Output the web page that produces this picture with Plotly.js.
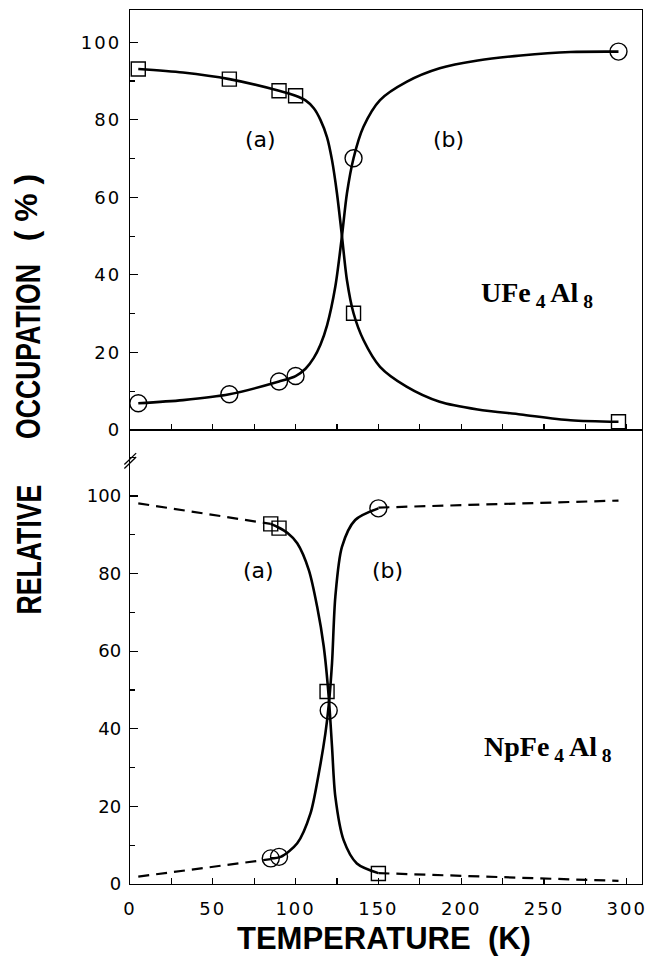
<!DOCTYPE html>
<html><head><meta charset="utf-8">
<script src="https://cdn.plot.ly/plotly-3.0.1.min.js"></script>
<style>
body{margin:0;background:#fff}
.xtick text, .ytick text {letter-spacing: 2px;}
</style>
</head><body><div id="chart" style="width:647px;height:957px"></div>
<script>
// ---- UFe4Al8 (upper panel) ----
const uSqT = [5, 60, 90, 100, 135, 295];
const uSqV = [93.1, 90.5, 87.5, 86.2, 30.1, 2.1];
const uCiT = [5, 60, 90, 100, 135, 295];
const uCiV = [6.9, 9.2, 12.5, 13.9, 70.1, 97.6];
const uCurveAT = [5, 32, 60, 90, 100, 106, 111, 115, 119, 122, 125, 128, 131, 135, 141, 151, 167, 187, 210, 236, 266, 295];
const uCurveAV = [93.1, 92.2, 90.5, 87.5, 86.2, 85.0, 83.0, 80.0, 75.5, 69.6, 61, 50, 38.7, 30.1, 23.2, 16.3, 11.2, 7.3, 5.3, 4.0, 2.5, 2.1];
const uCurveBT = [5, 32, 60, 90, 100, 106, 111, 115, 119, 124, 128, 131, 135, 141, 151, 167, 187, 210, 236, 266, 295];
const uCurveBV = [6.9, 7.7, 9.2, 12.5, 13.9, 15.8, 18.6, 22.0, 27.0, 37, 50, 61, 70.1, 78.2, 85.1, 89.8, 93.3, 95.3, 96.6, 97.5, 97.6];

// ---- NpFe4Al8 (lower panel) ----
const nSqT = [85, 90, 119, 150];
const nSqV = [92.8, 91.7, 49.6, 2.7];
const nCiT = [85, 90, 120, 150];
const nCiV = [6.6, 7.0, 44.7, 96.8];
const nCurveAT = [85, 90, 95, 101, 108, 113, 117, 120, 122, 124, 129, 137, 150];
const nCurveAV = [92.8, 91.8, 90.5, 87.8, 80.9, 71.5, 61.2, 48.3, 35.4, 22.5, 11.3, 5.3, 2.8];
const nCurveBT = [85, 91, 101, 109, 114, 118, 120, 122, 124, 128, 136, 150];
const nCurveBV = [6.6, 7.0, 10.5, 18.2, 28.5, 38.8, 46, 56.9, 74, 86.9, 93.8, 96.8];
const nDashUpLT = [5, 85],  nDashUpLV = [98.1, 92.8];
const nDashUpRT = [150, 295], nDashUpRV = [97.0, 98.8];
const nDashLoLT = [5, 85],  nDashLoLV = [1.9, 6.4];
const nDashLoRT = [150, 295], nDashLoRV = [2.8, 0.8];

const xTicks = [0, 50, 100, 150, 200, 250, 300];
const yTicks = [0, 20, 40, 60, 80, 100];

const solid = {color: '#000', width: 2.6, shape: 'spline', smoothing: 0.8};
const dashed = {color: '#000', width: 2.2, dash: '11px,7px'};
const sq = {symbol: 'square-open', size: 14, color: '#000', line: {width: 1.4, color: '#000'}};
const ci = {symbol: 'circle-open', size: 17, color: '#000', line: {width: 1.4, color: '#000'}};

function ln(x, y, xa, ya, line) { return {x, y, xaxis: xa, yaxis: ya, mode: 'lines', line, hoverinfo: 'skip'}; }
function mk(x, y, xa, ya, marker) { return {x, y, xaxis: xa, yaxis: ya, mode: 'markers', marker, cliponaxis: false}; }

const traces = [
  ln(uCurveAT, uCurveAV, 'x2', 'y', solid),
  ln(uCurveBT, uCurveBV, 'x2', 'y', solid),
  mk(uSqT, uSqV, 'x2', 'y', sq),
  mk(uCiT, uCiV, 'x2', 'y', ci),
  ln(nCurveAT, nCurveAV, 'x', 'y2', solid),
  ln(nCurveBT, nCurveBV, 'x', 'y2', solid),
  ln(nDashUpLT, nDashUpLV, 'x', 'y2', dashed),
  ln(nDashUpRT, nDashUpRV, 'x', 'y2', dashed),
  ln(nDashLoLT, nDashLoLV, 'x', 'y2', dashed),
  ln(nDashLoRT, nDashLoRV, 'x', 'y2', dashed),
  mk(nSqT, nSqV, 'x', 'y2', sq),
  mk(nCiT, nCiV, 'x', 'y2', ci)
];

const tickFont = {family: 'DejaVu Sans, sans-serif', size: 18, color: '#000'};
const split = 0.5195;
const xr = [0, 309.2];
const common = {showgrid: false, zeroline: false, showline: true, linecolor: '#000', linewidth: 1.3,
  ticks: 'inside', tickcolor: '#000', tickwidth: 1.2, tickfont: tickFont};
const titleFont = {family: 'Liberation Sans, Arial, sans-serif', size: 36, color: '#000', weight: 'bold'};
const labFont = {family: 'DejaVu Sans', size: 22, color: '#000'};
const formFont = {family: 'Liberation Serif, serif', size: 28, color: '#000', weight: 'bold'};

const layout = {
  width: 647, height: 957, showlegend: false,
  paper_bgcolor: '#fff', plot_bgcolor: '#fff',
  margin: {l: 130, r: 5, t: 10, b: 73},
  xaxis: Object.assign({}, common, {anchor: 'y2', domain: [0, 1], range: xr, tickvals: xTicks, ticklen: 6,
    mirror: true, ticklabelstandoff: 8,
    minor: {dtick: 25, tick0: 0, ticks: 'inside', ticklen: 6, tickcolor: '#000', tickwidth: 1.2}}),
  xaxis2: Object.assign({}, common, {anchor: 'y', domain: [0, 1], range: xr, tickvals: xTicks, ticklen: 6,
    mirror: true, showticklabels: false,
    minor: {dtick: 25, tick0: 0, ticks: 'inside', ticklen: 6, tickcolor: '#000', tickwidth: 1.2}}),
  yaxis: Object.assign({}, common, {anchor: 'x2', domain: [split, 1], range: [0, 108.33], tickvals: yTicks,
    ticklen: 8, mirror: true, ticklabelstandoff: 4,
    minor: {dtick: 10, tick0: 0, ticks: 'inside', ticklen: 5, tickcolor: '#000', tickwidth: 1.2}}),
  yaxis2: Object.assign({}, common, {anchor: 'x', domain: [0, split], range: [0, 117], tickvals: yTicks,
    ticklen: 8, mirror: true, ticklabelstandoff: 4,
    minor: {dtick: 10, tick0: 0, ticks: 'inside', ticklen: 5, tickcolor: '#000', tickwidth: 1.2}}),
  shapes: [
    {type: 'line', xref: 'paper', yref: 'paper', x0: -0.011, x1: 0.012, y0: 0.4755, y1: 0.4885, line: {color: '#000', width: 1.3}},
    {type: 'line', xref: 'paper', yref: 'paper', x0: -0.011, x1: 0.012, y0: 0.4800, y1: 0.4930, line: {color: '#000', width: 1.3}}
  ],
  annotations: [
    {xref: 'x2', yref: 'y', x: 79, y: 75, text: '(a)', showarrow: false, font: labFont},
    {xref: 'x2', yref: 'y', x: 192.5, y: 75, text: '(b)', showarrow: false, font: labFont},
    {xref: 'x', yref: 'y2', x: 77.5, y: 80.7, text: '(a)', showarrow: false, font: labFont},
    {xref: 'x', yref: 'y2', x: 155.5, y: 80.9, text: '(b)', showarrow: false, font: labFont},
    {xref: 'x2', yref: 'y', x: 246, y: 35, text: 'UFe<sub> 4 </sub>Al<sub> 8</sub>', showarrow: false, font: formFont},
    {xref: 'x', yref: 'y2', x: 252.5, y: 35, text: 'NpFe<sub> 4 </sub>Al<sub> 8</sub>', showarrow: false, font: formFont},
    {xref: 'paper', yref: 'paper', x: -0.243, y: 0.382, text: 'RELATIVE', textangle: -90, showarrow: false, font: titleFont},
    {xref: 'paper', yref: 'paper', x: -0.243, y: 0.609, text: 'OCCUPATION', textangle: -90, showarrow: false, font: titleFont},
    {xref: 'paper', yref: 'paper', x: -0.243, y: 0.815, text: '( % )', textangle: -90, showarrow: false,
      font: {family: 'Liberation Sans, Arial, sans-serif', size: 32, color: '#000', weight: 'bold'}},
    {xref: 'paper', yref: 'paper', x: 0.497, y: -0.0625, yanchor: 'middle', text: 'TEMPERATURE&nbsp;&nbsp;(K)', showarrow: false,
      font: {family: 'Liberation Sans, Arial, sans-serif', size: 31, color: '#000', weight: 'bold'}}
  ]
};

// condensed look for the vertical title words (the original uses a narrow bold face)
function condense(gd) {
  [6, 7].forEach(function (i) {
    const t = gd.querySelector('.annotation[data-index="' + i + '"] text.annotation-text');
    if (!t) return;
    const cx = parseFloat(t.getAttribute('x')) || 0;
    t.setAttribute('transform', 'translate(' + cx + ',0) scale(0.74,1) translate(' + (-cx) + ',0)');
  });
}

Plotly.newPlot('chart', traces, layout, {staticPlot: true, displayModeBar: false}).then(condense);
</script></body></html>
